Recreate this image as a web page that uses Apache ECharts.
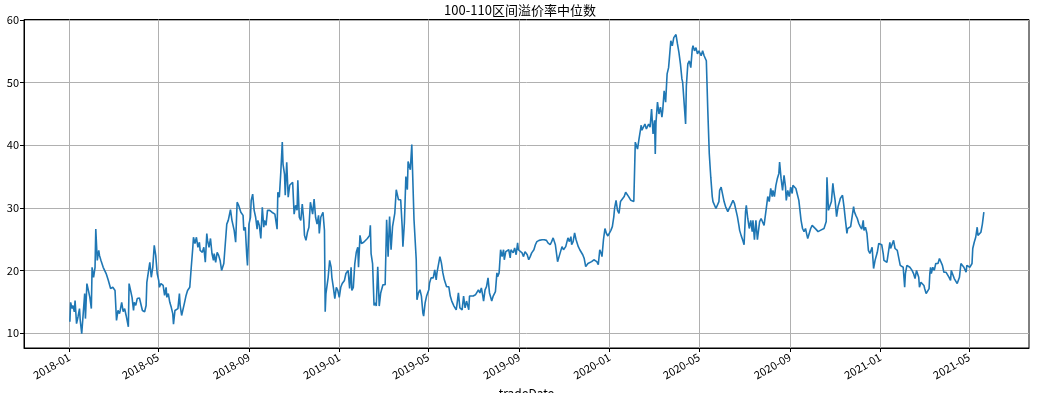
<!DOCTYPE html>
<html><head><meta charset="utf-8">
<script src="https://cdn.jsdelivr.net/npm/echarts@6/dist/echarts.min.js"></script>
<style>html,body{margin:0;padding:0;background:#fff}#c{width:1040px;height:393px}</style>
</head><body><div id="c"></div>
<script>
const chartTitle = '100-110区间溢价率中位数';
const xName = 'tradeDate';
const xRange = ['2017-11-01', '2021-07-21'];
const xTicks = ['2018-01-01','2018-05-01','2018-09-01','2019-01-01','2019-05-01','2019-09-01','2020-01-01','2020-05-01','2020-09-01','2021-01-01','2021-05-01'];
const yTicks = [10, 20, 30, 40, 50, 60];
const dates = [
'2018-01-02','2018-01-03','2018-01-05','2018-01-06','2018-01-08','2018-01-09','2018-01-11','2018-01-13','2018-01-15','2018-01-16','2018-01-18','2018-01-20','2018-01-22','2018-01-23','2018-01-25','2018-01-27','2018-01-29','2018-01-31',
'2018-02-01','2018-02-03','2018-02-05','2018-02-06','2018-02-08','2018-02-10','2018-02-11','2018-02-13','2018-02-16','2018-02-20','2018-02-23','2018-02-26',
'2018-03-01','2018-03-02','2018-03-04','2018-03-06','2018-03-08','2018-03-10','2018-03-11','2018-03-13','2018-03-15','2018-03-17','2018-03-19','2018-03-20','2018-03-22','2018-03-23','2018-03-25','2018-03-27','2018-03-29','2018-03-30',
'2018-04-01','2018-04-03','2018-04-06','2018-04-08','2018-04-10','2018-04-13','2018-04-15','2018-04-16','2018-04-18','2018-04-20','2018-04-22','2018-04-24','2018-04-26','2018-04-28','2018-04-30',
'2018-05-02','2018-05-03','2018-05-05','2018-05-08','2018-05-10','2018-05-12','2018-05-13','2018-05-15','2018-05-17','2018-05-19','2018-05-21','2018-05-22','2018-05-24','2018-05-26','2018-05-28','2018-05-30','2018-05-31',
'2018-06-02','2018-06-04','2018-06-06','2018-06-08','2018-06-10','2018-06-13','2018-06-15','2018-06-17','2018-06-18','2018-06-20','2018-06-22','2018-06-24','2018-06-26','2018-06-27','2018-06-30',
'2018-07-02','2018-07-04','2018-07-06','2018-07-07','2018-07-09','2018-07-11','2018-07-13','2018-07-15','2018-07-16','2018-07-18','2018-07-20','2018-07-22','2018-07-24','2018-07-26','2018-07-29','2018-07-31',
'2018-08-02','2018-08-04','2018-08-06','2018-08-07','2018-08-09','2018-08-12','2018-08-14','2018-08-16','2018-08-18','2018-08-21','2018-08-24','2018-08-25','2018-08-27','2018-08-29','2018-08-30',
'2018-09-01','2018-09-03','2018-09-04','2018-09-06','2018-09-08','2018-09-10','2018-09-12','2018-09-13','2018-09-15','2018-09-17','2018-09-19','2018-09-21','2018-09-22','2018-09-24','2018-09-26','2018-09-29',
'2018-10-02','2018-10-06','2018-10-09','2018-10-10','2018-10-12','2018-10-14','2018-10-16','2018-10-17','2018-10-19','2018-10-20','2018-10-22','2018-10-24','2018-10-26','2018-10-28','2018-10-30',
'2018-11-01','2018-11-03','2018-11-05','2018-11-06','2018-11-08','2018-11-10','2018-11-12','2018-11-14','2018-11-15','2018-11-17','2018-11-19','2018-11-21','2018-11-23','2018-11-24','2018-11-26','2018-11-28','2018-11-30',
'2018-12-02','2018-12-04','2018-12-05','2018-12-07','2018-12-10','2018-12-12','2018-12-13','2018-12-14','2018-12-17','2018-12-19','2018-12-21','2018-12-22','2018-12-24','2018-12-26','2018-12-28','2018-12-30',
'2019-01-01','2019-01-03','2019-01-05','2019-01-08','2019-01-10','2019-01-13','2019-01-15','2019-01-17','2019-01-18','2019-01-20','2019-01-22','2019-01-24','2019-01-26','2019-01-27','2019-01-29','2019-01-31',
'2019-02-03','2019-02-05','2019-02-08','2019-02-11','2019-02-12','2019-02-13','2019-02-15','2019-02-17','2019-02-19','2019-02-20','2019-02-22','2019-02-24','2019-02-26',
'2019-03-01','2019-03-04','2019-03-06','2019-03-08','2019-03-10','2019-03-12','2019-03-14','2019-03-17','2019-03-19','2019-03-22','2019-03-25','2019-03-27','2019-03-28','2019-03-30',
'2019-04-01','2019-04-03','2019-04-04','2019-04-06','2019-04-07','2019-04-09','2019-04-10','2019-04-12','2019-04-15','2019-04-16','2019-04-18','2019-04-20','2019-04-22','2019-04-24','2019-04-25','2019-04-27','2019-04-29',
'2019-05-02','2019-05-03','2019-05-05','2019-05-08','2019-05-10','2019-05-12','2019-05-13','2019-05-15','2019-05-17','2019-05-19','2019-05-21','2019-05-23','2019-05-26','2019-05-29','2019-05-31',
'2019-06-02','2019-06-05','2019-06-08','2019-06-09','2019-06-11','2019-06-13','2019-06-16','2019-06-18','2019-06-20','2019-06-22','2019-06-25','2019-06-26','2019-06-28',
'2019-07-01','2019-07-04','2019-07-06','2019-07-08','2019-07-10','2019-07-12','2019-07-14','2019-07-15','2019-07-17','2019-07-19','2019-07-21','2019-07-23','2019-07-24','2019-07-26','2019-07-28','2019-07-31',
'2019-08-02','2019-08-03','2019-08-05','2019-08-07','2019-08-09','2019-08-11','2019-08-12','2019-08-14','2019-08-16','2019-08-18','2019-08-20','2019-08-21','2019-08-24','2019-08-26','2019-08-28','2019-08-30','2019-08-31',
'2019-09-02','2019-09-05','2019-09-07','2019-09-09','2019-09-12','2019-09-14','2019-09-16','2019-09-18','2019-09-21','2019-09-23','2019-09-25','2019-09-28',
'2019-10-02','2019-10-05','2019-10-08','2019-10-10','2019-10-13','2019-10-15','2019-10-17','2019-10-20','2019-10-22','2019-10-23','2019-10-25','2019-10-27','2019-10-29','2019-10-31',
'2019-11-01','2019-11-03','2019-11-06','2019-11-08','2019-11-10','2019-11-11','2019-11-13','2019-11-15','2019-11-17','2019-11-19','2019-11-20','2019-11-22','2019-11-24','2019-11-26','2019-11-28','2019-11-30',
'2019-12-02','2019-12-03','2019-12-05','2019-12-08','2019-12-11','2019-12-13','2019-12-15','2019-12-17','2019-12-19','2019-12-21','2019-12-22','2019-12-24','2019-12-26','2019-12-28','2019-12-30',
'2020-01-01','2020-01-03','2020-01-05','2020-01-07','2020-01-08','2020-01-10','2020-01-12','2020-01-14','2020-01-16','2020-01-18','2020-01-21','2020-01-23','2020-01-27','2020-01-30',
'2020-02-03','2020-02-05','2020-02-06','2020-02-08','2020-02-10','2020-02-13','2020-02-14','2020-02-16','2020-02-18','2020-02-20','2020-02-22','2020-02-23','2020-02-25','2020-02-27','2020-02-29',
'2020-03-02','2020-03-03','2020-03-04','2020-03-06','2020-03-08','2020-03-10','2020-03-12','2020-03-13','2020-03-15','2020-03-17','2020-03-19','2020-03-21','2020-03-22','2020-03-24','2020-03-26','2020-03-28','2020-03-30','2020-03-31',
'2020-04-02','2020-04-04','2020-04-06','2020-04-08','2020-04-09','2020-04-13','2020-04-14','2020-04-16','2020-04-18','2020-04-20','2020-04-22','2020-04-23','2020-04-25','2020-04-27','2020-04-29',
'2020-05-01','2020-05-02','2020-05-04','2020-05-06','2020-05-08','2020-05-10','2020-05-11','2020-05-13','2020-05-15','2020-05-17','2020-05-19','2020-05-20','2020-05-22','2020-05-24','2020-05-26','2020-05-28','2020-05-29','2020-05-31',
'2020-06-02','2020-06-04','2020-06-06','2020-06-07','2020-06-09','2020-06-11','2020-06-13','2020-06-15','2020-06-16','2020-06-18','2020-06-20','2020-06-22','2020-06-24','2020-06-25','2020-06-27','2020-06-29',
'2020-07-01','2020-07-03','2020-07-04','2020-07-06','2020-07-08','2020-07-10','2020-07-12','2020-07-13','2020-07-15','2020-07-17','2020-07-19','2020-07-21','2020-07-22','2020-07-24','2020-07-26','2020-07-28','2020-07-30','2020-07-31',
'2020-08-02','2020-08-04','2020-08-06','2020-08-08','2020-08-09','2020-08-11','2020-08-13','2020-08-15','2020-08-17','2020-08-18','2020-08-20','2020-08-22','2020-08-24','2020-08-26','2020-08-27','2020-08-29','2020-08-31',
'2020-09-02','2020-09-04','2020-09-05','2020-09-07','2020-09-09','2020-09-11','2020-09-13','2020-09-15','2020-09-16','2020-09-18','2020-09-20','2020-09-22','2020-09-24','2020-09-25','2020-09-27','2020-09-29',
'2020-10-01','2020-10-03','2020-10-06','2020-10-09','2020-10-12','2020-10-14','2020-10-17','2020-10-20','2020-10-21','2020-10-23','2020-10-25','2020-10-27','2020-10-29','2020-10-30',
'2020-11-01','2020-11-03','2020-11-05','2020-11-07','2020-11-08','2020-11-11','2020-11-13','2020-11-15','2020-11-17','2020-11-18','2020-11-20','2020-11-22','2020-11-24','2020-11-26','2020-11-27','2020-11-29',
'2020-12-01','2020-12-03','2020-12-05','2020-12-07','2020-12-09','2020-12-10','2020-12-12','2020-12-14','2020-12-16','2020-12-18','2020-12-19','2020-12-21','2020-12-23','2020-12-25','2020-12-27','2020-12-28','2020-12-30',
'2021-01-01','2021-01-03','2021-01-05','2021-01-06','2021-01-08','2021-01-10','2021-01-12','2021-01-14','2021-01-15','2021-01-17','2021-01-19','2021-01-21','2021-01-23','2021-01-24','2021-01-26','2021-01-28','2021-01-30',
'2021-02-01','2021-02-02','2021-02-03','2021-02-04','2021-02-06','2021-02-08','2021-02-10','2021-02-11','2021-02-13','2021-02-15','2021-02-17','2021-02-19','2021-02-20','2021-02-22','2021-02-23','2021-02-25','2021-02-27',
'2021-03-01','2021-03-02','2021-03-04','2021-03-06','2021-03-08','2021-03-09','2021-03-10','2021-03-11','2021-03-13','2021-03-15','2021-03-17','2021-03-19','2021-03-20','2021-03-22','2021-03-24','2021-03-26','2021-03-28','2021-03-29','2021-03-31',
'2021-04-02','2021-04-04','2021-04-06','2021-04-07','2021-04-09','2021-04-11','2021-04-13','2021-04-15','2021-04-16','2021-04-18','2021-04-20','2021-04-22','2021-04-24','2021-04-25','2021-04-27','2021-04-28','2021-04-30',
'2021-05-02','2021-05-04','2021-05-05','2021-05-06','2021-05-08','2021-05-10','2021-05-12','2021-05-13','2021-05-15','2021-05-17','2021-05-19','2021-05-21'
];
const values = [
11.8,14.9,13.9,14.4,13.4,15.2,11.5,12.6,13.9,12.0,9.9,13.1,16.3,12.3,17.9,16.8,15.7,13.9,
20.5,18.9,20.5,26.6,21.6,23.2,22.4,21.6,20.5,19.5,18.4,17.1,
17.3,17.1,16.8,12.0,13.6,13.1,13.6,14.9,13.4,13.9,12.8,13.1,11.0,17.9,16.8,15.7,13.6,14.9,
14.4,15.5,15.6,15.6,13.6,13.4,14.4,18.1,17.9,21.3,18.9,20.5,24.0,22.4,19.5,
18.4,17.3,17.9,17.6,16.0,17.3,15.7,16.3,14.9,14.1,13.1,11.4,13.6,13.9,13.9,16.3,14.4,
12.8,12.6,14.9,16.0,16.8,17.3,20.5,23.5,25.3,24.3,25.3,23.7,24.5,23.2,22.9,
23.7,21.3,25.9,24.8,23.7,25.1,22.7,21.6,22.7,21.3,22.9,22.4,21.6,20.0,21.1,21.3,
27.4,28.0,28.2,29.7,28.0,26.4,24.5,30.9,30.4,29.3,28.8,26.4,26.9,22.4,20.8,
27.4,28.5,31.2,32.2,29.6,28.5,26.6,28.0,27.2,25.1,30.1,26.9,28.0,27.2,29.6,29.6,
29.3,29.0,26.6,32.5,31.7,35.7,40.5,37.0,35.4,32.0,37.3,31.7,33.6,33.8,34.1,
29.0,30.4,29.6,34.4,28.5,28.0,30.6,28.0,25.6,24.8,26.1,26.9,30.9,30.6,29.0,31.4,28.5,
27.4,28.8,25.9,28.5,29.3,26.4,13.4,16.3,18.9,21.6,20.5,18.9,17.3,15.5,17.3,16.8,
15.7,17.3,17.9,18.4,19.5,20.0,17.1,20.5,16.8,17.3,21.1,22.9,23.7,20.5,25.6,24.3,
24.5,24.8,25.1,25.6,27.2,22.7,21.1,14.4,14.8,14.3,20.6,14.3,16.4,
17.7,17.7,28.1,22.2,28.6,23.3,27.0,29.1,32.9,31.3,31.3,27.0,23.8,27.6,
35.0,32.9,37.4,37.1,36.1,40.1,36.1,28.1,21.7,15.3,16.4,16.9,15.9,13.2,12.7,14.8,15.9,
16.9,18.0,18.8,18.8,20.1,18.5,19.6,19.3,22.2,21.2,19.6,18.5,17.4,17.4,15.9,
15.1,14.3,13.7,14.5,16.4,14.0,13.7,15.9,14.0,15.1,13.7,15.9,15.6,
15.9,16.1,16.4,16.9,16.4,17.2,15.9,15.1,16.9,17.4,18.8,16.4,16.4,15.1,15.9,16.6,
19.6,19.0,19.6,23.3,22.2,23.3,21.7,23.0,22.8,23.3,22.0,23.3,22.8,23.6,22.5,24.4,23.3,
23.0,22.8,22.2,23.0,22.5,21.7,22.2,22.8,23.3,24.1,24.6,24.8,
24.9,24.9,24.8,24.4,24.1,24.6,25.2,24.1,24.4,21.4,22.2,21.9,23.8,23.3,
23.6,23.8,25.2,24.6,25.4,24.1,24.6,26.0,24.9,25.2,23.8,23.3,23.3,22.5,21.9,20.6,
20.5,21.1,21.4,21.4,21.7,21.9,21.4,20.9,23.3,22.7,22.2,24.9,26.7,25.9,25.5,
25.4,26.4,27.0,28.6,29.9,31.2,29.6,29.1,31.0,31.2,31.8,32.5,31.8,31.2,
31.0,40.5,40.8,39.4,41.0,43.2,42.4,42.4,43.4,42.6,42.9,43.4,42.9,45.8,41.8,
44.0,38.6,43.7,46.9,45.0,46.1,44.5,45.5,48.7,46.9,51.4,52.4,53.8,56.7,55.9,57.2,57.0,57.7,
56.2,54.8,53.0,50.6,50.1,43.4,49.5,53.0,53.5,52.4,55.4,55.9,55.1,55.6,54.6,
55.1,54.8,54.3,55.1,54.3,54.0,53.5,45.5,38.6,34.9,31.8,31.0,30.7,29.9,29.9,31.0,32.8,33.3,
33.1,31.0,30.2,30.2,29.4,29.9,30.4,30.2,31.2,30.7,30.7,28.6,27.2,26.4,25.6,24.9,
24.1,29.4,30.4,28.3,26.7,28.0,26.2,28.0,24.9,28.0,24.9,24.9,27.8,28.3,28.3,27.2,27.0,29.9,
31.8,31.0,33.1,31.8,32.8,31.8,33.6,34.7,35.5,37.3,34.7,32.8,35.2,33.3,31.2,32.8,31.8,
33.3,32.3,33.6,33.8,33.1,33.1,31.2,31.0,28.0,26.7,26.2,26.7,25.6,25.1,24.9,26.7,
27.2,27.0,26.6,26.2,26.4,26.4,26.7,27.8,34.9,29.6,29.4,31.0,33.9,32.8,
31.2,28.6,30.2,31.0,31.5,32.0,30.2,28.0,25.9,26.7,26.7,27.0,28.6,30.2,29.4,28.8,
28.3,27.5,27.0,26.6,28.0,26.4,26.9,25.9,23.2,22.7,22.9,23.7,20.3,21.6,21.3,22.9,24.3,
24.4,24.1,22.7,21.6,21.3,21.3,22.9,24.5,23.5,23.7,24.8,23.5,23.7,23.2,22.9,20.8,20.8,
20.5,20.3,17.3,19.5,20.8,21.1,20.5,20.3,20.0,19.5,18.7,20.0,20.3,18.9,17.3,18.1,17.9,
17.6,17.1,16.3,16.3,17.1,19.5,20.5,19.5,20.5,20.0,21.1,21.3,21.1,21.9,21.9,20.8,19.7,19.5,19.7,
19.5,18.9,18.4,20.0,19.7,18.7,18.9,17.9,17.9,18.9,21.1,20.8,20.5,20.5,19.7,20.8,20.5,
20.5,20.3,21.1,23.5,24.5,25.3,26.9,25.6,25.9,26.1,27.4,29.3
];

const FONT = '"Noto Sans CJK SC", "DejaVu Sans", sans-serif';
const chart = echarts.init(document.getElementById('c'), null, { renderer: 'canvas' });
const toTs = s => echarts.time.parse(s).getTime();
const xTickVals = xTicks.map(toTs);
const seriesData = dates.map((d, i) => [toTs(d), values[i]]);

chart.setOption({
  animation: false,
  backgroundColor: '#fff',
  title: {
    text: chartTitle, left: 'center', top: -1,
    textStyle: { fontFamily: FONT, fontSize: 13, fontWeight: 'normal', color: '#000' }
  },
  grid: { left: 24, right: 11, top: 19.5, bottom: 45, outerBoundsMode: 'none', containLabel: false,
          show: true, borderColor: '#000', borderWidth: 1, backgroundColor: 'transparent' },
  xAxis: {
    type: 'value',
    min: toTs(xRange[0]), max: toTs(xRange[1]),
    name: xName, nameLocation: 'middle', nameGap: 38,
    nameTextStyle: { fontFamily: FONT, fontSize: 12, color: '#000' },
    axisLine: { show: true, onZero: false, lineStyle: { color: '#000', width: 1 } },
    axisTick: { show: true, length: 4, lineStyle: { color: '#000' }, customValues: xTickVals },
    axisLabel: {
      customValues: xTickVals, rotate: 30, margin: 8,
      fontFamily: FONT, fontSize: 11, color: '#000',
      formatter: v => echarts.time.format(v, '{yyyy}-{MM}', false)
    },
    splitLine: { show: true, lineStyle: { color: '#b0b0b0', width: 1 } }
  },
  yAxis: {
    type: 'value', min: 7.6, max: 60.1,
    axisLine: { show: true, lineStyle: { color: '#000', width: 1 } },
    axisTick: { show: true, length: 4, lineStyle: { color: '#000' }, customValues: yTicks },
    axisLabel: { customValues: yTicks, margin: 5, fontFamily: FONT, fontSize: 11, color: '#000' },
    splitLine: { show: true, lineStyle: { color: '#b0b0b0', width: 1 } }
  },
  series: [{
    type: 'line', data: seriesData, showSymbol: false, symbol: 'none',
    lineStyle: { color: '#1f77b4', width: 1.6 }, itemStyle: { color: '#1f77b4' }
  }]
});
</script></body></html>
